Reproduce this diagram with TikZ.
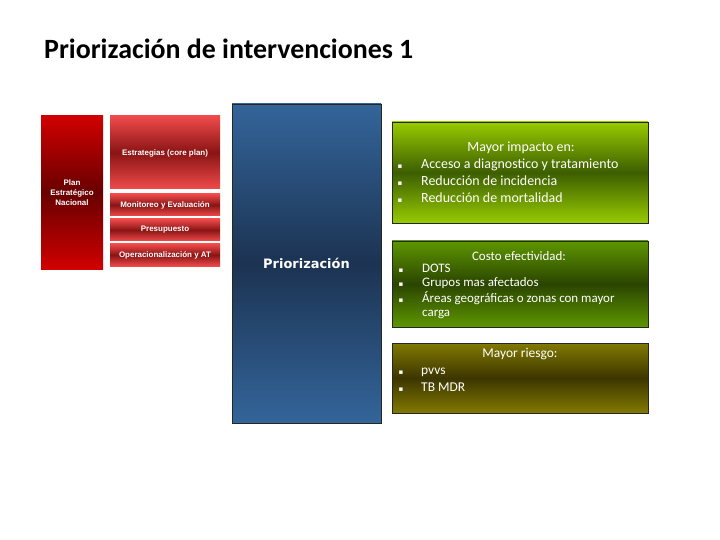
\documentclass[tikz,border=0pt]{standalone}
\usepackage{fontspec}
\setmainfont{Carlito}
\newfontfamily\arialfont{Liberation Sans}
\newfontfamily\dejafont{DejaVu Sans}

% gradient colours
\definecolor{redtop}{HTML}{D00000}
\definecolor{redmid}{HTML}{680000}
\definecolor{pinktop}{HTML}{F04A4A}
\definecolor{pinkmid}{HTML}{8A1414}
\definecolor{bluetop}{HTML}{33659A}
\definecolor{bluemid}{HTML}{1C3352}
\definecolor{limetop}{HTML}{98CB00}
\definecolor{limemid}{HTML}{3D5E00}
\definecolor{grasstop}{HTML}{5E9600}
\definecolor{grassmid}{HTML}{2B4500}
\definecolor{olivetop}{HTML}{827A00}
\definecolor{olivemid}{HTML}{3C3500}

\tikzset{
	redpanel/.style={inner sep=0pt, text=white, align=center,
		font=\arialfont\bfseries\fontsize{8}{10}\selectfont},
	boxpanel/.style={draw=black!85, line width=0.7pt, inner sep=0pt},
	boxhead/.style={text=white, anchor=base, inner sep=0pt, font=\fontsize{14}{16}\selectfont},
	boxitem/.style={text=white, anchor=base west, inner sep=0pt, font=\fontsize{14}{16}\selectfont},
	smallitem/.style={text=white, anchor=base west, inner sep=0pt, font=\fontsize{13}{15}\selectfont},
	bulletmark/.style={text=white, anchor=base, inner sep=0pt, font=\dejafont\fontsize{7}{8}\selectfont},
}

\begin{document}
\begin{tikzpicture}[x=1bp, y=-1bp]
	\useasboundingbox (0,0) rectangle (720,540);

	% Title
	\node (title) at (44,58.3) [anchor=base west, inner sep=0pt, font=\bfseries\fontsize{28}{32}\selectfont] {Priorización de intervenciones 1};

	% Red plan blocks
	\node (plan) at (72,192.5) [redpanel, minimum width=62bp, minimum height=153bp,
		top color=redtop, bottom color=redtop, middle color=redmid] {Plan\\Estratégico\\Nacional};
	\node (estrategias) at (165,152.5) [redpanel, minimum width=110bp, minimum height=73bp,
		top color=pinktop, bottom color=pinktop, middle color=pinkmid] {};
	\node (estrategias-text) at (165,153) [redpanel] {Estrategias (core plan)};
	\node (monitoreo) at (165,205) [redpanel, minimum width=110bp, minimum height=22bp,
		top color=pinktop, bottom color=pinktop, middle color=pinkmid] {Monitoreo y Evaluación};
	\node (presupuesto) at (165,230) [redpanel, minimum width=110bp, minimum height=22bp,
		top color=pinktop, bottom color=pinktop, middle color=pinkmid] {Presupuesto};
	\node (operacion) at (165,255) [redpanel, minimum width=110bp, minimum height=22bp,
		top color=pinktop, bottom color=pinktop, middle color=pinkmid] {Operacionalización y AT};

	% Blue column
	\node (priorizacion) at (306.5,263.5) [boxpanel, minimum width=149bp, minimum height=319bp,
		top color=bluetop, bottom color=bluetop, middle color=bluemid,
		text=white, font=\dejafont\bfseries\fontsize{13}{15}\selectfont] {Priorización};

	% Green boxes
	\node (impacto) at (520,172.5) [boxpanel, minimum width=256bp, minimum height=101bp,
		top color=limetop, bottom color=limetop, middle color=limemid] {};
	\node (costo) at (520,284) [boxpanel, minimum width=256bp, minimum height=86bp,
		top color=grasstop, bottom color=grasstop, middle color=grassmid] {};
	\node (riesgo) at (520,378) [boxpanel, minimum width=256bp, minimum height=70bp,
		top color=olivetop, bottom color=olivetop, middle color=olivemid] {};

	%Mayor impacto
	\node (impacto-head) at (521,152) [boxhead] {Mayor impacto en:};
	\node (impacto-b1) at (400,169) [bulletmark] {▪};
	\node (impacto-b2) at (400,186) [bulletmark] {▪};
	\node (impacto-b3) at (400,203) [bulletmark] {▪};
	\node (impacto-1) at (421,169) [boxitem] {Acceso a diagnostico y tratamiento};
	\node (impacto-2) at (421,186) [boxitem] {Reducción de incidencia};
	\node (impacto-3) at (421,203) [boxitem] {Reducción de mortalidad};

	%Costo efectividad
	\node (costo-head) at (519,261) [boxhead, font=\fontsize{13}{15}\selectfont] {Costo efectividad:};
	\node (costo-b1) at (401,273) [bulletmark] {▪};
	\node (costo-b2) at (401,287) [bulletmark] {▪};
	\node (costo-b3) at (401,302) [bulletmark] {▪};
	\node (costo-1) at (422,273) [smallitem] {DOTS};
	\node (costo-2) at (422,287) [smallitem] {Grupos mas afectados};
	\node (costo-3) at (422,302) [smallitem] {Áreas geográficas o zonas con mayor};
	\node (costo-4) at (422,316) [smallitem] {carga};

	%Mayor riesgo
	\node (riesgo-head) at (520,357) [boxhead, font=\fontsize{13.5}{15}\selectfont] {Mayor riesgo:};
	\node (riesgo-b1) at (401,374) [bulletmark] {▪};
	\node (riesgo-b2) at (401,391) [bulletmark] {▪};
	\node (riesgo-1) at (421,374) [smallitem, font=\fontsize{13.5}{15}\selectfont] {pvvs};
	\node (riesgo-2) at (421,391) [smallitem, font=\fontsize{13.5}{15}\selectfont] {TB MDR};

\end{tikzpicture}
\end{document}
